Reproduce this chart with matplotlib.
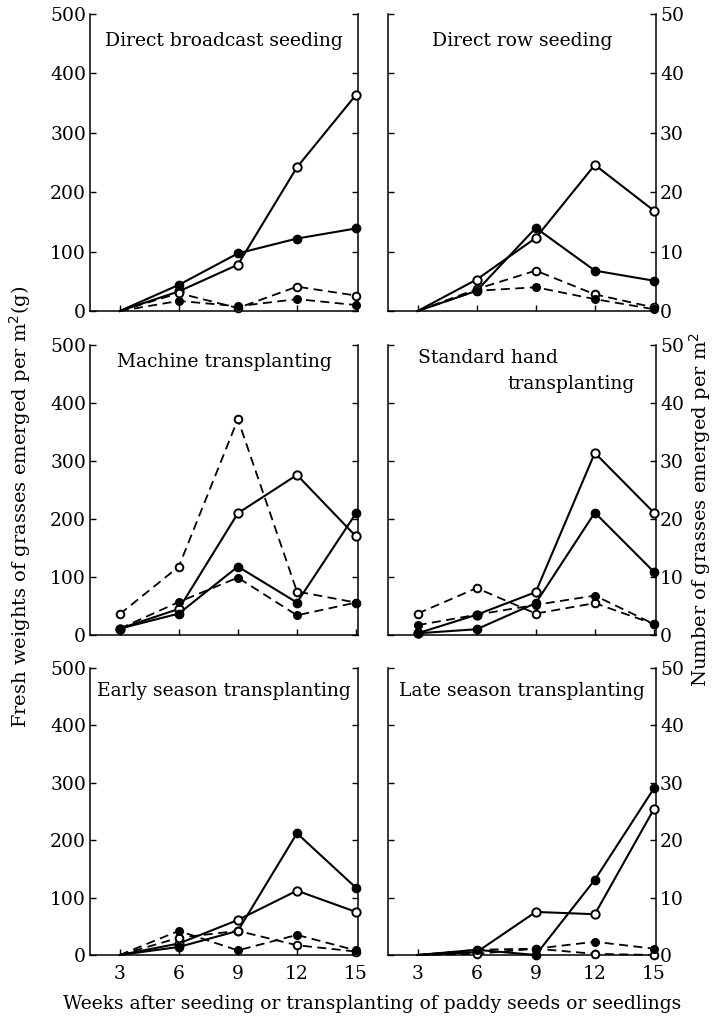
import matplotlib
matplotlib.use('Agg')
import matplotlib.pyplot as plt

plt.rcParams['font.family'] = ['DejaVu Serif']

weeks = [3, 6, 9, 12, 15]

# values (left scale, 0-500)
broadcast_solid_open = [0, 33, 78, 242, 364]
broadcast_solid_fill = [0, 44, 97, 122, 139]
broadcast_dash_open = [0, 30, 5, 41, 26]
broadcast_dash_fill = [0, 17, 8, 20, 10]

row_solid_open = [0, 53, 123, 246, 169]
row_solid_fill = [0, 34, 140, 68, 51]
row_dash_open = [0, 37, 68, 28, 6]
row_dash_fill = [0, 34, 40, 20, 3]

machine_solid_open = [11, 45, 210, 276, 170]
machine_solid_fill = [11, 37, 118, 56, 210]
machine_dash_open = [36, 118, 372, 75, 56]
machine_dash_fill = [11, 57, 99, 34, 56]

hand_solid_open = [3, 35, 74, 314, 211]
hand_solid_fill = [3, 10, 55, 211, 109]
hand_dash_open = [37, 81, 37, 55, 19]
hand_dash_fill = [17, 35, 52, 68, 19]

early_solid_open = [0, 20, 61, 112, 75]
early_solid_fill = [0, 14, 42, 212, 117]
early_dash_open = [0, 30, 42, 17, 6]
early_dash_fill = [0, 42, 8, 35, 8]

late_solid_open = [0, 5, 75, 71, 254]
late_solid_fill = [0, 9, 0, 131, 290]
late_dash_open = [0, 2, 11, 2, 0]
late_dash_fill = [0, 9, 11, 23, 11]

left_ticks = [0, 100, 200, 300, 400, 500]
left_labels = ['0', '100', '200', '300', '400', '500']
right_labels = ['0', '10', '20', '30', '40', '50']

panels = [
    ("Direct broadcast seeding", broadcast_solid_open, broadcast_solid_fill, broadcast_dash_open, broadcast_dash_fill),
    ("Direct row seeding", row_solid_open, row_solid_fill, row_dash_open, row_dash_fill),
    ("Machine transplanting", machine_solid_open, machine_solid_fill, machine_dash_open, machine_dash_fill),
    ("Standard hand", hand_solid_open, hand_solid_fill, hand_dash_open, hand_dash_fill),
    ("Early season transplanting", early_solid_open, early_solid_fill, early_dash_open, early_dash_fill),
    ("Late season transplanting", late_solid_open, late_solid_fill, late_dash_open, late_dash_fill),
]

fig = plt.figure(figsize=(7.16, 10.18), dpi=100)

col_x = [0.126, 0.542]
col_w = 0.374
row_y = [(0.6945, 0.2917), (0.3762, 0.2849), (0.0619, 0.2820)]
title_y = [0.91, 0.94, 0.92]

for i, (title, so, sf, do, df) in enumerate(panels):
    r, c = divmod(i, 2)
    ax = fig.add_axes([col_x[c], row_y[r][0], col_w, row_y[r][1]])

    # the middle row shows markers at week 3, the others start bare at the origin
    every = None if r == 1 else [1, 2, 3, 4]

    ax.plot(weeks, so, '-', color='black', lw=1.5, marker='o', ms=6, markevery=every,
            mfc='white', mec='black', mew=1.4, clip_on=False, zorder=3)
    ax.plot(weeks, sf, '-', color='black', lw=1.5, marker='o', ms=6, markevery=every,
            mfc='black', mec='black', clip_on=False, zorder=3)
    ax.plot(weeks, do, '--', color='black', lw=1.3, dashes=(5, 3), marker='o', ms=5.5,
            markevery=every, mfc='white', mec='black', mew=1.4, clip_on=False, zorder=3)
    ax.plot(weeks, df, '--', color='black', lw=1.3, dashes=(5, 3), marker='o', ms=5.5,
            markevery=every, mfc='black', mec='black', clip_on=False, zorder=3)

    ax.set_xlim(1.5, 15.1)
    ax.set_ylim(0, 500)
    ax.spines['top'].set_visible(False)
    for s in ['left', 'right', 'bottom']:
        ax.spines[s].set_linewidth(1.1)

    ax.set_xticks(weeks)
    ax.set_yticks(left_ticks)
    ax.tick_params(direction='in', length=4, width=1, left=True, right=True,
                   bottom=True, labelsize=13.5)
    ax.tick_params(axis='x', pad=7)
    if c == 0:
        ax.set_yticklabels(left_labels)
        ax.tick_params(axis='y', labelleft=True, labelright=False, pad=3)
    else:
        ax.set_yticklabels(right_labels)
        ax.tick_params(axis='y', labelleft=False, labelright=True, pad=3)
    if r < 2:
        ax.tick_params(labelbottom=False)

    if i == 3:
        ax.text(0.11, 0.955, title, transform=ax.transAxes, ha='left', va='center',
                fontsize=13.5)
        ax.text(0.92, 0.865, "transplanting", transform=ax.transAxes, ha='right',
                va='center', fontsize=13.5)
    else:
        ax.text(0.5, title_y[r], title, transform=ax.transAxes, ha='center',
                va='center', fontsize=13.5)

fig.text(0.028, 0.502, "Fresh weights of grasses emerged per m$^2$(g)", rotation=90,
         ha='center', va='center', fontsize=14)
fig.text(0.978, 0.50, "Number of grasses emerged per m$^2$", rotation=90,
         ha='center', va='center', fontsize=14)
fig.text(0.52, 0.014, "Weeks after seeding or transplanting of paddy seeds or seedlings",
         ha='center', va='center', fontsize=13.5)

fig.savefig('out.png', dpi=100)
